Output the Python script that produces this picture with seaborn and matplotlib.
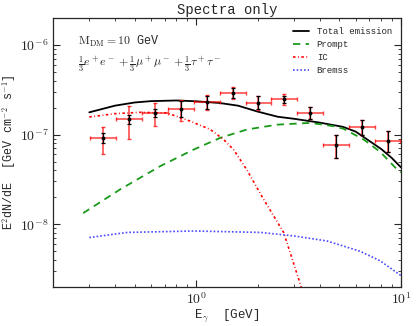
import numpy as np
import pandas as pd
import matplotlib
import matplotlib.pyplot as plt
import seaborn as sns
from matplotlib.ticker import FuncFormatter, LogLocator

matplotlib.use('Agg')

# model curves
E_total = [0.3, 0.4, 0.5, 0.6, 0.8, 1.0, 1.3, 1.6, 2.0, 2.5, 3.0, 4.0, 5.2, 6.0, 7.0, 8.0, 9.0, 10.0]
total = [1.77e-7, 2.1e-7, 2.28e-7, 2.36e-7, 2.4e-7, 2.35e-7, 2.25e-7, 2.1e-7, 1.8e-7,
         1.58e-7, 1.5e-7, 1.36e-7, 1.22e-7, 1.08e-7, 8.5e-8, 6.9e-8, 5.5e-8, 4.3e-8]

E_prompt = [0.28, 0.425, 0.667, 0.97, 1.31, 1.77, 2.48, 3.6, 4.68, 5.24, 6.57, 7.92, 9.55, 10.0]
prompt = [1.33e-8, 2.45e-8, 4.45e-8, 6.8e-8, 9.2e-8, 1.14e-7, 1.29e-7, 1.35e-7, 1.24e-7,
          1.16e-7, 8.8e-8, 6.4e-8, 4.1e-8, 3.8e-8]

E_ic = [0.3, 0.4, 0.53, 0.72, 0.935, 1.17, 1.36, 1.52, 1.77, 2.13, 2.67, 3.22, 3.4]
ic = [1.57e-7, 1.71e-7, 1.77e-7, 1.74e-7, 1.41e-7, 1.14e-7, 8.8e-8, 6.8e-8, 4.0e-8,
      1.9e-8, 8.1e-9, 2.15e-9, 1.4e-9]

E_brems = [0.3, 0.46, 0.97, 2.06, 3.0, 4.35, 6.3, 7.92, 10.0]
brems = [7.1e-9, 8.1e-9, 8.4e-9, 8.1e-9, 7.4e-9, 6.5e-9, 5.0e-9, 3.9e-9, 2.67e-9]

# data points (energy bins and fluxes)
E_lo = np.array([0.303, 0.405, 0.543, 0.724, 0.97, 1.30, 1.74, 2.32, 3.10, 4.16, 5.59, 7.48])
E_hi = np.array([0.405, 0.543, 0.724, 0.97, 1.30, 1.74, 2.32, 3.10, 4.16, 5.59, 7.48, 9.93])
E_c = np.array([0.351, 0.469, 0.627, 0.838, 1.123, 1.503, 2.007, 2.686, 3.60, 4.82, 6.47, 8.63])
flux = np.array([9.2e-8, 1.49e-7, 1.74e-7, 1.93e-7, 2.31e-7, 2.9e-7, 2.25e-7, 2.49e-7,
                 1.74e-7, 7.74e-8, 1.22e-7, 8.58e-8])
red_lo = np.array([6.0e-8, 8.95e-8, 1.24e-7, 1.41e-7, 1.9e-7, 2.49e-7, 1.86e-7, 2.15e-7,
                   1.49e-7, 5.5e-8, 1.0e-7, 6.35e-8])
red_hi = np.array([1.23e-7, 2.06e-7, 2.25e-7, 2.45e-7, 2.78e-7, 3.39e-7, 2.71e-7, 2.84e-7,
                   2.03e-7, 1.0e-7, 1.44e-7, 1.09e-7])
blk_lo = np.array([8.1e-8, 1.31e-7, 1.57e-7, 1.57e-7, 1.93e-7, 2.56e-7, 1.91e-7, 2.25e-7,
                   1.49e-7, 5.5e-8, 1.0e-7, 6.35e-8])
blk_hi = np.array([1.045e-7, 1.67e-7, 1.93e-7, 2.39e-7, 2.71e-7, 3.3e-7, 2.67e-7, 2.71e-7,
                   2.03e-7, 1.0e-7, 1.44e-7, 1.09e-7])

sns.set_style('ticks')
plt.rcParams['font.family'] = ['Liberation Mono', 'DejaVu Sans Mono']
plt.rcParams['mathtext.fontset'] = 'cm'

fig, ax = plt.subplots(figsize=(4.16, 3.26), dpi=100)
fig.subplots_adjust(left=0.128, right=0.964, bottom=0.12, top=0.945)

sns.lineplot(x=E_total, y=total, ax=ax, color='black', lw=1.3, label='Total emission')
sns.lineplot(x=E_prompt, y=prompt, ax=ax, color='#1a9a1a', lw=1.3, label='Prompt',
             dashes=False, linestyle=(0, (4, 3)))
sns.lineplot(x=E_ic, y=ic, ax=ax, color='red', lw=1.2, label='IC',
             linestyle=(0, (1.5, 1.5, 0.5, 1.5)))
sns.lineplot(x=E_brems, y=brems, ax=ax, color='#4a4aff', lw=1.2, label='Bremss',
             linestyle=(0, (1, 1.2)))

ax.errorbar(E_c, flux, xerr=[E_c - E_lo, E_hi - E_c], yerr=[flux - red_lo, red_hi - flux],
            fmt='none', ecolor='red', alpha=0.75, elinewidth=1.1, capsize=1.5, zorder=3)
ax.errorbar(E_c, flux, yerr=[flux - blk_lo, blk_hi - flux], fmt='o', ms=1.8, color='black',
            elinewidth=0.9, capsize=1.5, capthick=0.9, zorder=4)

ax.set_xscale('log')
ax.set_yscale('log')
ax.set_xlim(0.2, 10)
ax.set_ylim(2e-9, 2e-6)

fmt = FuncFormatter(lambda v, p: r'$10^{%d}$' % round(np.log10(v)))
ax.xaxis.set_major_formatter(fmt)
ax.yaxis.set_major_formatter(fmt)
ax.yaxis.set_major_locator(LogLocator(base=10, numticks=10))
ax.tick_params(which='both', direction='in', top=True, right=True, labelsize=10)
ax.tick_params(which='major', length=5, width=0.8)
ax.tick_params(which='minor', length=2.5, width=0.6)
for s in ax.spines.values():
    s.set_linewidth(0.9)

ax.set_title('Spectra only', fontsize=10, pad=3)
ax.set_xlabel(r'E$_\gamma$  [GeV]', fontsize=9, labelpad=0)
ax.set_ylabel(r'E$^2$dN/dE  [GeV cm$^{-2}$ s$^{-1}$]', fontsize=8.5, labelpad=1)

ax.text(0.07, 0.9, r'$\mathrm{M_{DM}=10}$ GeV', transform=ax.transAxes, fontsize=8.5)
ax.text(0.07, 0.82, r'$\frac{1}{3}e^+e^- + \frac{1}{3}\mu^+\mu^- + \frac{1}{3}\tau^+\tau^-$',
        transform=ax.transAxes, fontsize=8.5)

ax.legend(loc='upper right', frameon=False, fontsize=6.5, handlelength=1.7,
          labelspacing=0.45, borderaxespad=0.6, handletextpad=0.9)

plt.savefig('out.png', dpi=100)
